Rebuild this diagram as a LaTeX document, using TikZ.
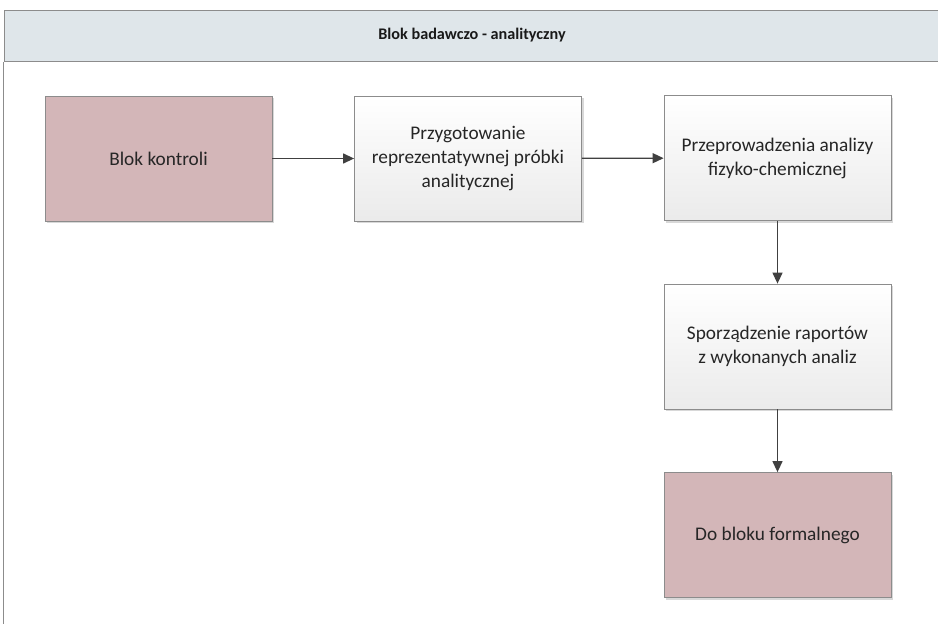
\documentclass[tikz,border=0pt]{standalone}
\usepackage{fontspec}
\setmainfont{Carlito}
\usetikzlibrary{arrows.meta,shadows}
\definecolor{hdr}{HTML}{DFE6EA}
\definecolor{pinkbox}{HTML}{D3B6B8}
\definecolor{edge}{HTML}{8C8C8C}
\definecolor{arr}{HTML}{404040}
\tikzset{
  box/.style={draw=edge, line width=0.8pt, minimum width=227pt, minimum height=125pt,
    align=center, font=\fontsize{19.3}{24}\selectfont, text=black!85,
    drop shadow={shadow xshift=2pt, shadow yshift=-2pt, fill=black!25, opacity=0.6}},
  pinkstep/.style={box, fill=pinkbox},
  greystep/.style={box, top color=white, bottom color=black!8},
  conn/.style={draw=arr, line width=1.3pt, -{Triangle[length=11pt,width=10pt]}}
}
\begin{document}
\begin{tikzpicture}[x=1pt,y=-1pt]
\useasboundingbox (0,0) rectangle (938,624);
\fill[white] (0,0) rectangle (938,624);
\node[draw=edge, fill=hdr, line width=0.8pt, minimum width=945pt, minimum height=51pt, anchor=north west,
  inner sep=0pt] (hdr) at (3.5,10) {};
\node[font=\fontsize{16.2}{20}\selectfont\bfseries, text=black!90] (title) at (472,35.5) {Blok badawczo - analityczny};
\draw[edge, line width=0.8pt] (hdr.south west) -- (3.5,624) coordinate (fb);
\node[pinkstep] (a) at (158.5,158.5) {Blok kontroli};
\node[greystep] (b) at (468,158.5) {Przygotowanie\\reprezentatywnej próbki\\analitycznej};
\node[greystep] (c) at (777.5,158) {Przeprowadzenia analizy\\fizyko-chemicznej};
\node[greystep] (d) at (777.5,346.5) {Sporządzenie raportów\\z wykonanych analiz};
\node[pinkstep] (e) at (777.5,535) {Do bloku formalnego};
\draw[conn] (a) -- (b);
\draw[conn] (b) -- (c);
\draw[conn] (c) -- (d);
\draw[conn] (d) -- (e);
\end{tikzpicture}
\end{document}
